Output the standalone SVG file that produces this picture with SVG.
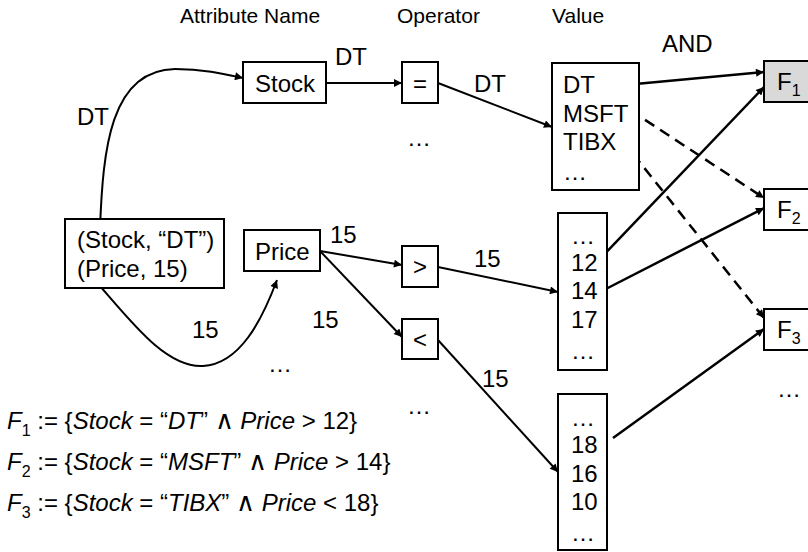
<svg xmlns="http://www.w3.org/2000/svg" width="808" height="552" viewBox="0 0 808 552">
<defs>
<style>
text{font-family:"Liberation Sans",Arial,sans-serif;fill:#000}
.h{font-size:21px}
.t{font-size:24px}
.f{font-size:24px}
.i{font-style:italic}
.w{font-family:"DejaVu Sans",sans-serif;font-weight:200;font-size:26px}
.box{fill:#fff;stroke:#000;stroke-width:2}
.c{fill:none;stroke:#000;stroke-width:2}
.o{fill:none;stroke:#000;stroke-width:2.5}
.d{fill:none;stroke:#000;stroke-width:2.5;stroke-dasharray:11 7}
</style>
<marker id="ah" viewBox="0 0 10 10" refX="10" refY="5" markerWidth="11" markerHeight="8" markerUnits="userSpaceOnUse" orient="auto"><path d="M0,0 L10,5 L0,10 z" fill="#000"/></marker>
</defs>
<rect width="808" height="552" fill="#fff"/>
<g id="headers">
<text class="h" x="180" y="23">Attribute Name</text>
<text class="h" x="397" y="23">Operator</text>
<text class="h" x="552" y="23">Value</text>
<text class="t" x="662" y="52" font-size="25">AND</text>
</g>
<g id="connectors">
<path class="c" d="M100,228 C103,150 110,70 175,69 C205,69 225,74 243,78" marker-end="url(#ah)"/>
<path class="c" d="M93,278 C130,320 165,368 203,366 C240,364 262,320 277,280" marker-end="url(#ah)"/>
<line class="c" x1="326" y1="83" x2="402" y2="83" marker-end="url(#ah)"/>
<line class="c" x1="438" y1="83" x2="552" y2="127" marker-end="url(#ah)"/>
<line class="c" x1="320" y1="251" x2="402" y2="265" marker-end="url(#ah)"/>
<line class="c" x1="320" y1="251" x2="402" y2="337" marker-end="url(#ah)"/>
<line class="c" x1="438" y1="267" x2="558" y2="292" marker-end="url(#ah)"/>
<line class="c" x1="438" y1="340" x2="558" y2="472" marker-end="url(#ah)"/>
<line class="o" x1="614" y1="86" x2="764" y2="72" marker-end="url(#ah)"/>
<line class="d" x1="630" y1="110" x2="764" y2="198" marker-end="url(#ah)"/>
<line class="d" x1="622" y1="140" x2="764" y2="318" marker-end="url(#ah)"/>
<line class="o" x1="597" y1="262" x2="764" y2="87" marker-end="url(#ah)"/>
<line class="o" x1="598" y1="293" x2="764" y2="208" marker-end="url(#ah)"/>
<line class="o" x1="613" y1="438" x2="764" y2="329" marker-end="url(#ah)"/>
<text class="t" x="77" y="125">DT</text>
<text class="t" x="335" y="65">DT</text>
<text class="t" x="474" y="92">DT</text>
<text class="t" x="330" y="243">15</text>
<text class="t" x="312" y="328">15</text>
<text class="t" x="192" y="338">15</text>
<text class="t" x="474" y="267">15</text>
<text class="t" x="482" y="387">15</text>
</g>
<g id="event">
<rect class="box" x="65" y="219" width="159" height="69"/>
<text class="t" x="77" y="248">(Stock, “DT”)</text>
<text class="t" x="77" y="277">(Price, 15)</text>
</g>
<g id="attr-stock">
<rect class="box" x="243" y="62" width="83" height="41"/>
<text class="t" x="255" y="92">Stock</text>
</g>
<g id="attr-price">
<rect class="box" x="244" y="230" width="76" height="41"/>
<text class="t" x="255" y="260">Price</text>
</g>
<g id="attr-more">
<text class="t" x="268" y="372">…</text>
</g>
<g id="op-eq">
<rect class="box" x="402" y="62" width="36" height="41"/>
<text class="t" x="420" y="92" text-anchor="middle">=</text>
</g>
<g id="op-more1">
<text class="t" x="407" y="146">…</text>
</g>
<g id="op-gt">
<rect class="box" x="402" y="246" width="36" height="41"/>
<text class="t" x="420" y="275" text-anchor="middle">&gt;</text>
</g>
<g id="op-lt">
<rect class="box" x="402" y="319" width="36" height="40"/>
<text class="t" x="420" y="348" text-anchor="middle">&lt;</text>
</g>
<g id="op-more2">
<text class="t" x="407" y="414">…</text>
</g>
<g id="val-stock">
<rect class="box" x="552" y="63" width="87" height="127"/>
<text class="t" x="563" y="93">DT</text>
<text class="t" x="563" y="122">MSFT</text>
<text class="t" x="563" y="150">TIBX</text>
<text class="t" x="563" y="180">…</text>
</g>
<g id="val-gt">
<rect class="box" x="558" y="213" width="49" height="157"/>
<text class="t" x="571" y="244">…</text>
<text class="t" x="571" y="271">12</text>
<text class="t" x="571" y="299">14</text>
<text class="t" x="571" y="328">17</text>
<text class="t" x="571" y="359">…</text>
</g>
<g id="val-lt">
<rect class="box" x="558" y="394" width="49" height="156"/>
<text class="t" x="571" y="426">…</text>
<text class="t" x="571" y="453">18</text>
<text class="t" x="571" y="482">16</text>
<text class="t" x="571" y="510">10</text>
<text class="t" x="571" y="541">…</text>
</g>
<g id="F1">
<rect x="764" y="61" width="60" height="41" fill="#d9d9d9" stroke="#000" stroke-width="2"/>
<text class="t" x="777" y="90">F<tspan font-size="16" dy="6">1</tspan></text>
</g>
<g id="F2">
<rect class="box" x="764" y="189" width="60" height="41"/>
<text class="t" x="777" y="218">F<tspan font-size="16" dy="6">2</tspan></text>
</g>
<g id="F3">
<rect class="box" x="764" y="309" width="60" height="41"/>
<text class="t" x="777" y="338">F<tspan font-size="16" dy="6">3</tspan></text>
</g>
<g id="F-more">
<text class="t" x="777" y="397">…</text>
</g>
<g id="formulas">
<text class="f" x="7" y="429"><tspan class="i">F</tspan><tspan font-size="16" dy="7">1</tspan><tspan dy="-7"> := {</tspan><tspan class="i">Stock</tspan> = “<tspan class="i">DT</tspan>” <tspan class="w">∧</tspan> <tspan class="i">Price</tspan> &gt; 12}</text>
<text class="f" x="7" y="470"><tspan class="i">F</tspan><tspan font-size="16" dy="7">2</tspan><tspan dy="-7"> := {</tspan><tspan class="i">Stock</tspan> = “<tspan class="i">MSFT</tspan>” <tspan class="w">∧</tspan> <tspan class="i">Price</tspan> &gt; 14}</text>
<text class="f" x="7" y="511"><tspan class="i">F</tspan><tspan font-size="16" dy="7">3</tspan><tspan dy="-7"> := {</tspan><tspan class="i">Stock</tspan> = “<tspan class="i">TIBX</tspan>” <tspan class="w">∧</tspan> <tspan class="i">Price</tspan> &lt; 18}</text>
</g>
</svg>
